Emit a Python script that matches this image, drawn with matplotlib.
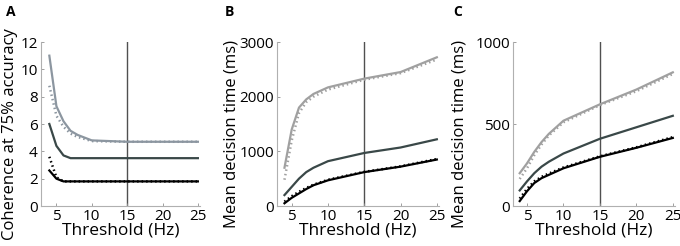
import numpy as np
import matplotlib
matplotlib.use("Agg")
import matplotlib.pyplot as plt

plt.rcParams['font.family'] = ['Open Sans', 'DejaVu Sans']

thr = [4, 5, 6, 7, 8, 10, 15, 20, 25]

# panel A: coherence at 75% accuracy
a_gray = [11.0, 7.3, 6.2, 5.5, 5.2, 4.8, 4.7, 4.7, 4.7]
a_gray_dot = [8.8, 6.6, 5.8, 5.3, 5.05, 4.75, 4.7, 4.7, 4.7]
a_dark = [6.0, 4.4, 3.7, 3.5, 3.5, 3.5, 3.5, 3.5, 3.5]
a_black = [2.6, 2.0, 1.8, 1.8, 1.8, 1.8, 1.8, 1.8, 1.8]
a_black_dot = [3.6, 2.1, 1.8, 1.8, 1.8, 1.8, 1.8, 1.8, 1.8]

# panel B: mean decision time (ms)
b_gray = [700, 1400, 1800, 1950, 2050, 2170, 2330, 2450, 2720]
b_gray_dot = [480, 1200, 1700, 1900, 2000, 2130, 2310, 2430, 2680]
b_dark = [200, 350, 500, 620, 700, 820, 970, 1070, 1220]
b_black = [50, 150, 230, 310, 380, 470, 620, 720, 850]
b_black_dot = [80, 180, 260, 330, 390, 480, 625, 725, 860]

# panel C: mean decision time (ms)
c_gray = [200, 260, 330, 390, 440, 520, 620, 710, 815]
c_gray_dot = [165, 230, 310, 375, 430, 510, 615, 700, 805]
c_dark = [95, 150, 200, 240, 270, 320, 410, 480, 550]
c_black = [30, 90, 140, 170, 190, 230, 300, 355, 415]
c_black_dot = [45, 105, 150, 178, 198, 235, 303, 358, 420]

panels = [
    ("A", [a_gray, a_gray_dot, a_dark, a_black, a_black_dot], (0, 12), [0, 2, 4, 6, 8, 10, 12],
     "Coherence at 75% accuracy", "#8c96a0"),
    ("B", [b_gray, b_gray_dot, b_dark, b_black, b_black_dot], (0, 3000), [0, 1000, 2000, 3000],
     "Mean decision time (ms)", "#a0a0a0"),
    ("C", [c_gray, c_gray_dot, c_dark, c_black, c_black_dot], (0, 1000), [0, 500, 1000],
     "Mean decision time (ms)", "#a0a0a0"),
]

W, H = 680, 246
# axes boxes in pixels: left, right, xlim
boxes = [(40.5, 200, (2.75, 25.3)), (277, 439, (2.97, 25.3)), (513, 675, (3.08, 25.3))]
top_px, bot_px = 42, 206
letter_x = [11, 229, 458]
ylabel_x = [10, 232, 459]

fig = plt.figure(figsize=(W / 100, H / 100), dpi=100)

for (letter, series, ylim, yticks, ylabel, gcol), (l, r, xlim), lx, ylx in zip(panels, boxes, letter_x, ylabel_x):
    ax = fig.add_axes([l / W, 1 - bot_px / H, (r - l) / W, (bot_px - top_px) / H])
    gray, gray_dot, dark, black, black_dot = series
    ax.axvline(15, color="#505050", lw=1.0, zorder=1)
    ax.plot(thr, gray, color=gcol, lw=1.6, zorder=3)
    ax.plot(thr, gray_dot, color=gcol, lw=1.8, ls=(0, (0.6, 1.2)), zorder=2)
    ax.plot(thr, dark, color="#3a4848", lw=1.6, zorder=3)
    ax.plot(thr, black, color="black", lw=1.6, zorder=3)
    ax.plot(thr, black_dot, color="black", lw=1.8, ls=(0, (0.6, 1.2)), zorder=2)
    ax.set_xlim(*xlim)
    ax.set_ylim(*ylim)
    ax.set_xticks([5, 10, 15, 20, 25])
    ax.set_yticks(yticks)
    for s in ["top", "right"]:
        ax.spines[s].set_visible(False)
    for s in ["left", "bottom"]:
        ax.spines[s].set_color("#b0b0b0")
        ax.spines[s].set_linewidth(0.8)
    ax.tick_params(direction="in", length=2, width=0.6, color="#909090", labelsize=11, pad=2)
    ax.set_xlabel("Threshold (Hz)", fontsize=12.5, labelpad=-1)
    fig.text(ylx / W, 1 - 134 / H, ylabel, fontsize=12, rotation=90, ha="center", va="center")
    fig.text(lx / W, 1 - 12 / H, letter, fontsize=10, fontweight="bold", ha="center", va="center")

fig.savefig("out.png", dpi=100)
